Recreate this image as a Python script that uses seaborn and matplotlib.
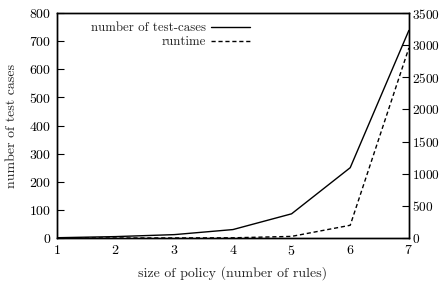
import matplotlib
matplotlib.use("Agg")
import matplotlib.pyplot as plt
import pandas as pd
import seaborn as sns

# Data
rules = [1, 2, 3, 4, 5, 6, 7]
test_cases = [1, 5, 12, 30, 86, 250, 738]
runtime = [0, 0, 1, 3, 25, 198, 2955]

df = pd.DataFrame({'rules': rules, 'test_cases': test_cases, 'runtime': runtime})

sns.set_style("white")
plt.rcParams['font.family'] = ['cmr10', 'DejaVu Serif']
plt.rcParams['axes.formatter.use_mathtext'] = True
fs = 10

fig = plt.figure(figsize=(4.42, 2.83), dpi=100)
ax = fig.add_axes([0.129, 0.159, 0.796, 0.795])
ax2 = ax.twinx()

sns.lineplot(data=df, x='rules', y='test_cases', ax=ax, color='black',
             linewidth=1.0, label='number of test-cases', legend=False)
sns.lineplot(data=df, x='rules', y='runtime', ax=ax2, color='black',
             linewidth=1.0, linestyle=(0, (3, 2)), label='runtime', legend=False)

ax.set_xlim(1, 7)
ax.set_ylim(0, 800)
ax2.set_ylim(0, 3500)
ax.set_xticks(rules)
ax.set_yticks(range(0, 801, 100))
ax2.set_yticks(range(0, 3501, 500))

ax.set_xlabel('size of policy (number of rules)', fontsize=fs, labelpad=6)
ax.set_ylabel('number of test cases', fontsize=fs, labelpad=8)
ax2.set_ylabel('')

for a in (ax, ax2):
    for s in a.spines.values():
        s.set_linewidth(1.0)
        s.set_color('black')
    a.tick_params(direction='in', length=5, width=0.8, colors='black',
                  labelsize=fs, pad=4)
ax.tick_params(axis='y', right=False)
ax.tick_params(axis='x', top=False)
ax2.tick_params(axis='y', left=False, pad=2.5, labelsize=9.6)

h1, l1 = ax.get_legend_handles_labels()
h2, l2 = ax2.get_legend_handles_labels()
ax2.legend(h1 + h2, l1 + l2, loc='upper left', bbox_to_anchor=(0.07, 1.0),
           frameon=False, markerfirst=False, fontsize=9.3, handlelength=3.0,
           handletextpad=0.4, labelspacing=0.15, borderaxespad=0.3)
leg = ax2.get_legend()
for t in leg.get_texts():
    t.set_ha('right')
leg._legend_box.align = 'right'

fig.savefig('out.png', dpi=100)
